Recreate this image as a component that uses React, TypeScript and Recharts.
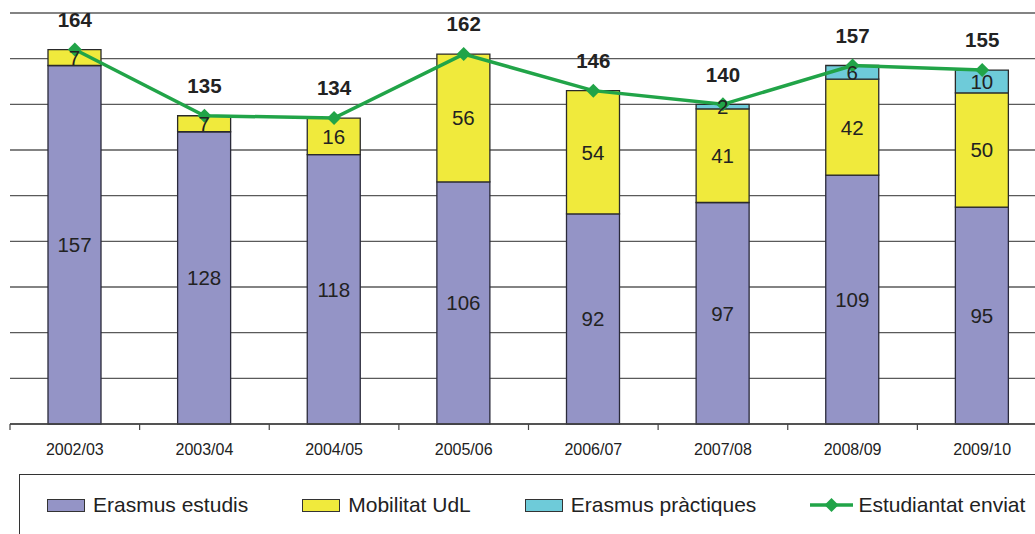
import React from 'react';
import { ComposedChart, Bar, Line, XAxis, YAxis, CartesianGrid, LabelList } from 'recharts';

const categories = ['2002/03', '2003/04', '2004/05', '2005/06', '2006/07', '2007/08', '2008/09', '2009/10'];
const erasmusEstudis = [157, 128, 118, 106, 92, 97, 109, 95];
const mobilitatUdL = [7, 7, 16, 56, 54, 41, 42, 50];
const erasmusPractiques = [0, 0, 0, 0, 0, 2, 6, 10];
const estudiantatEnviat = [164, 135, 134, 162, 146, 140, 157, 155];
const yTicks = [0, 20, 40, 60, 80, 100, 120, 140, 160, 180];

const data = categories.map((c, i) => ({
  cat: c,
  estudis: erasmusEstudis[i],
  mobilitat: mobilitatUdL[i],
  practiques: erasmusPractiques[i],
  enviat: estudiantatEnviat[i],
}));

const FONT = '"Liberation Sans", Arial, sans-serif';
const CHART_W = 1060;
const CHART_H = 534;
const M = { top: 13, left: 10, right: 13, bottom: 80 };
const PLOT_W = CHART_W - M.left - M.right;
const HALF_BAND = PLOT_W / categories.length / 2;

const PURPLE = '#9494C6';
const YELLOW = '#F0EA3C';
const CYAN = '#6ECBD9';
const GREEN = '#21A448';

const Tick = (props: any) => {
  const { x, y, payload } = props;
  return (
    <g>
      <line x1={x - HALF_BAND} x2={x - HALF_BAND} y1={y - 8} y2={y - 2} stroke="#444" strokeWidth={1.2} />
      <text x={x} y={y + 23} textAnchor="middle" fontSize={16} fontFamily={FONT} fill="#222">
        {payload.value}
      </text>
    </g>
  );
};

const Diamond = (props: any) => {
  const { cx, cy } = props;
  if (cx == null || cy == null) return null;
  const r = 7;
  return <polygon points={`${cx},${cy - r} ${cx + r},${cy} ${cx},${cy + r} ${cx - r},${cy}`} fill={GREEN} />;
};

const barLabel = (props: any) => {
  const { x, y, width, height, value } = props;
  if (!value) return null;
  return (
    <text x={x + width / 2} y={y + height / 2} dy="0.36em" textAnchor="middle" fontSize={20.5} fontFamily={FONT} fill="#222">
      {value}
    </text>
  );
};

const lineLabel = (props: any) => {
  const { x, y, value } = props;
  return (
    <text x={x} y={y - 30} dy="0.36em" textAnchor="middle" fontSize={20.5} fontWeight="bold" fontFamily={FONT} fill="#222">
      {value}
    </text>
  );
};

const legendItems = [
  { label: 'Erasmus estudis', color: PURPLE, type: 'rect' },
  { label: 'Mobilitat UdL', color: YELLOW, type: 'rect' },
  { label: 'Erasmus pràctiques', color: CYAN, type: 'rect' },
  { label: 'Estudiantat enviat', color: GREEN, type: 'line' },
];

export default function App() {
  return (
    <div style={{ position: 'absolute', left: 0, top: 0, width: 1035, height: 534, overflow: 'hidden', background: '#fff' }}>
      <ComposedChart width={CHART_W} height={CHART_H} data={data} margin={M}>
        <CartesianGrid vertical={false} stroke="#5a5a5a" strokeWidth={1.4} />
        <YAxis hide domain={[0, 180]} ticks={yTicks} />
        <XAxis
          dataKey="cat"
          height={30}
          axisLine={{ stroke: '#444', strokeWidth: 1.4 }}
          tickLine={false}
          tick={<Tick />}
          interval={0}
        />
        <Bar dataKey="estudis" stackId="a" fill={PURPLE} stroke="#2a2a3a" strokeWidth={1.3} barSize={53} isAnimationActive={false}>
          <LabelList dataKey="estudis" content={barLabel} />
        </Bar>
        <Bar dataKey="mobilitat" stackId="a" fill={YELLOW} stroke="#2a2a2a" strokeWidth={1.3} barSize={53} isAnimationActive={false}>
          <LabelList dataKey="mobilitat" content={barLabel} />
        </Bar>
        <Bar dataKey="practiques" stackId="a" fill={CYAN} stroke="#2a2a2a" strokeWidth={1.3} barSize={53} isAnimationActive={false}>
          <LabelList dataKey="practiques" content={barLabel} />
        </Bar>
        <Line dataKey="enviat" stroke={GREEN} strokeWidth={3.5} dot={<Diamond />} activeDot={false} isAnimationActive={false}>
          <LabelList dataKey="enviat" content={lineLabel} />
        </Line>
      </ComposedChart>
      <div
        style={{
          position: 'absolute',
          left: 19,
          top: 474,
          width: 1040,
          height: 80,
          border: '1.5px solid #333',
          boxSizing: 'border-box',
        }}
      >
        <div style={{ position: 'absolute', left: 27, top: 18, display: 'flex', alignItems: 'center', gap: 54, fontFamily: FONT, fontSize: 21, color: '#222', whiteSpace: 'nowrap' }}>
          {legendItems.map((it) => (
            <div key={it.label} style={{ display: 'flex', alignItems: 'center' }}>
              {it.type === 'rect' ? (
                <div style={{ width: 38, height: 13, background: it.color, border: '1px solid #333', boxSizing: 'border-box', marginRight: 8 }} />
              ) : (
                <svg width={43} height={14} style={{ marginRight: 5 }}>
                  <line x1={0} x2={43} y1={7} y2={7} stroke={it.color} strokeWidth={3.5} />
                  <polygon points="21.5,0 28.5,7 21.5,14 14.5,7" fill={it.color} />
                </svg>
              )}
              <span>{it.label}</span>
            </div>
          ))}
        </div>
      </div>
    </div>
  );
}
